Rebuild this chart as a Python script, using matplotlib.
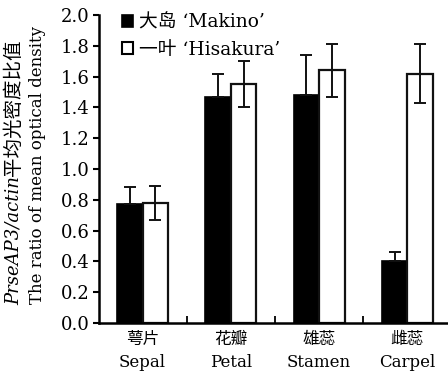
import matplotlib
matplotlib.use("Agg")
import matplotlib.pyplot as plt
import numpy as np
from matplotlib.patches import Patch

categories_cn = ["萼片", "花瓣", "雄蕊", "雌蕊"]
categories_en = ["Sepal", "Petal", "Stamen", "Carpel"]
makino = [0.77, 1.47, 1.48, 0.40]
makino_err = [0.11, 0.15, 0.26, 0.06]
hisakura = [0.78, 1.55, 1.64, 1.62]
hisakura_err = [0.11, 0.15, 0.17, 0.19]
series_names = ["大岛 ‘Makino’", "一叶 ‘Hisakura’"]
yticks = [0.0, 0.2, 0.4, 0.6, 0.8, 1.0, 1.2, 1.4, 1.6, 1.8, 2.0]

FAM = ["DejaVu Serif", "Noto Sans CJK SC"]
plt.rcParams['font.family'] = FAM

fig = plt.figure(figsize=(4.48, 3.74), dpi=100)
ax = fig.add_axes([99/448, 51/374, 349/448, (323-15)/374])

x = np.arange(len(categories_en))
w = 0.29
ekw = dict(ecolor="#111111", elinewidth=1.4, capsize=4.5, capthick=1.4)
# lower half of the black bars' error bars is hidden inside the black bar
m_err = np.array(makino_err)
ax.bar(x - w/2, makino, w, color="black", edgecolor="black", linewidth=1.2,
       yerr=[np.zeros_like(m_err), m_err], error_kw=ekw)
ax.bar(x + w/2, hisakura, w, color="white", edgecolor="#111111", linewidth=1.6,
       yerr=hisakura_err, error_kw=ekw)

ax.set_xlim(-0.494, 3.46)
ax.set_ylim(0, 2.0)
ax.set_yticks(yticks)
ax.set_yticklabels([f"{v:.1f}" for v in yticks], fontsize=13)
ax.set_xticks(x)
ax.set_xticklabels([f"{c}\n{e}" for c, e in zip(categories_cn, categories_en)],
                   fontsize=12, linespacing=1.45)
ax.set_xticks([0.5, 1.5, 2.5], minor=True)
ax.tick_params(axis='x', which='major', length=0, pad=6)
ax.tick_params(axis='x', which='minor', direction='in', length=5, width=1.3)
ax.tick_params(axis='y', direction='out', length=4, width=1.5, pad=3)
for s in ["top", "right"]:
    ax.spines[s].set_visible(False)
for s in ["left", "bottom"]:
    ax.spines[s].set_linewidth(1.8)

handles = [Patch(facecolor="black", edgecolor="black", linewidth=1.2),
           Patch(facecolor="white", edgecolor="black", linewidth=1.5)]
leg = ax.legend(handles, series_names, loc="upper left", bbox_to_anchor=(0.045, 1.03),
                frameon=False, fontsize=13.5, handlelength=0.6, handleheight=0.6,
                handletextpad=0.3, labelspacing=0.5, borderaxespad=0)

# y label
fig.canvas.draw()
r = fig.canvas.get_renderer()
t1 = fig.text(14/448, 1-305/374, "PrseAP3/actin", rotation=90, ha="center", va="bottom",
              fontsize=13, style="italic", family=FAM)
bb = t1.get_window_extent(r)
fig.text(14/448, bb.y1/fig.bbox.height, "平均光密度比值", rotation=90, ha="center", va="bottom",
         fontsize=14, family=FAM)
fig.text(38/448, 1-165/374, "The ratio of mean optical density", rotation=90, ha="center",
         va="center", fontsize=12, family=FAM)

fig.savefig("out.png", dpi=100)
